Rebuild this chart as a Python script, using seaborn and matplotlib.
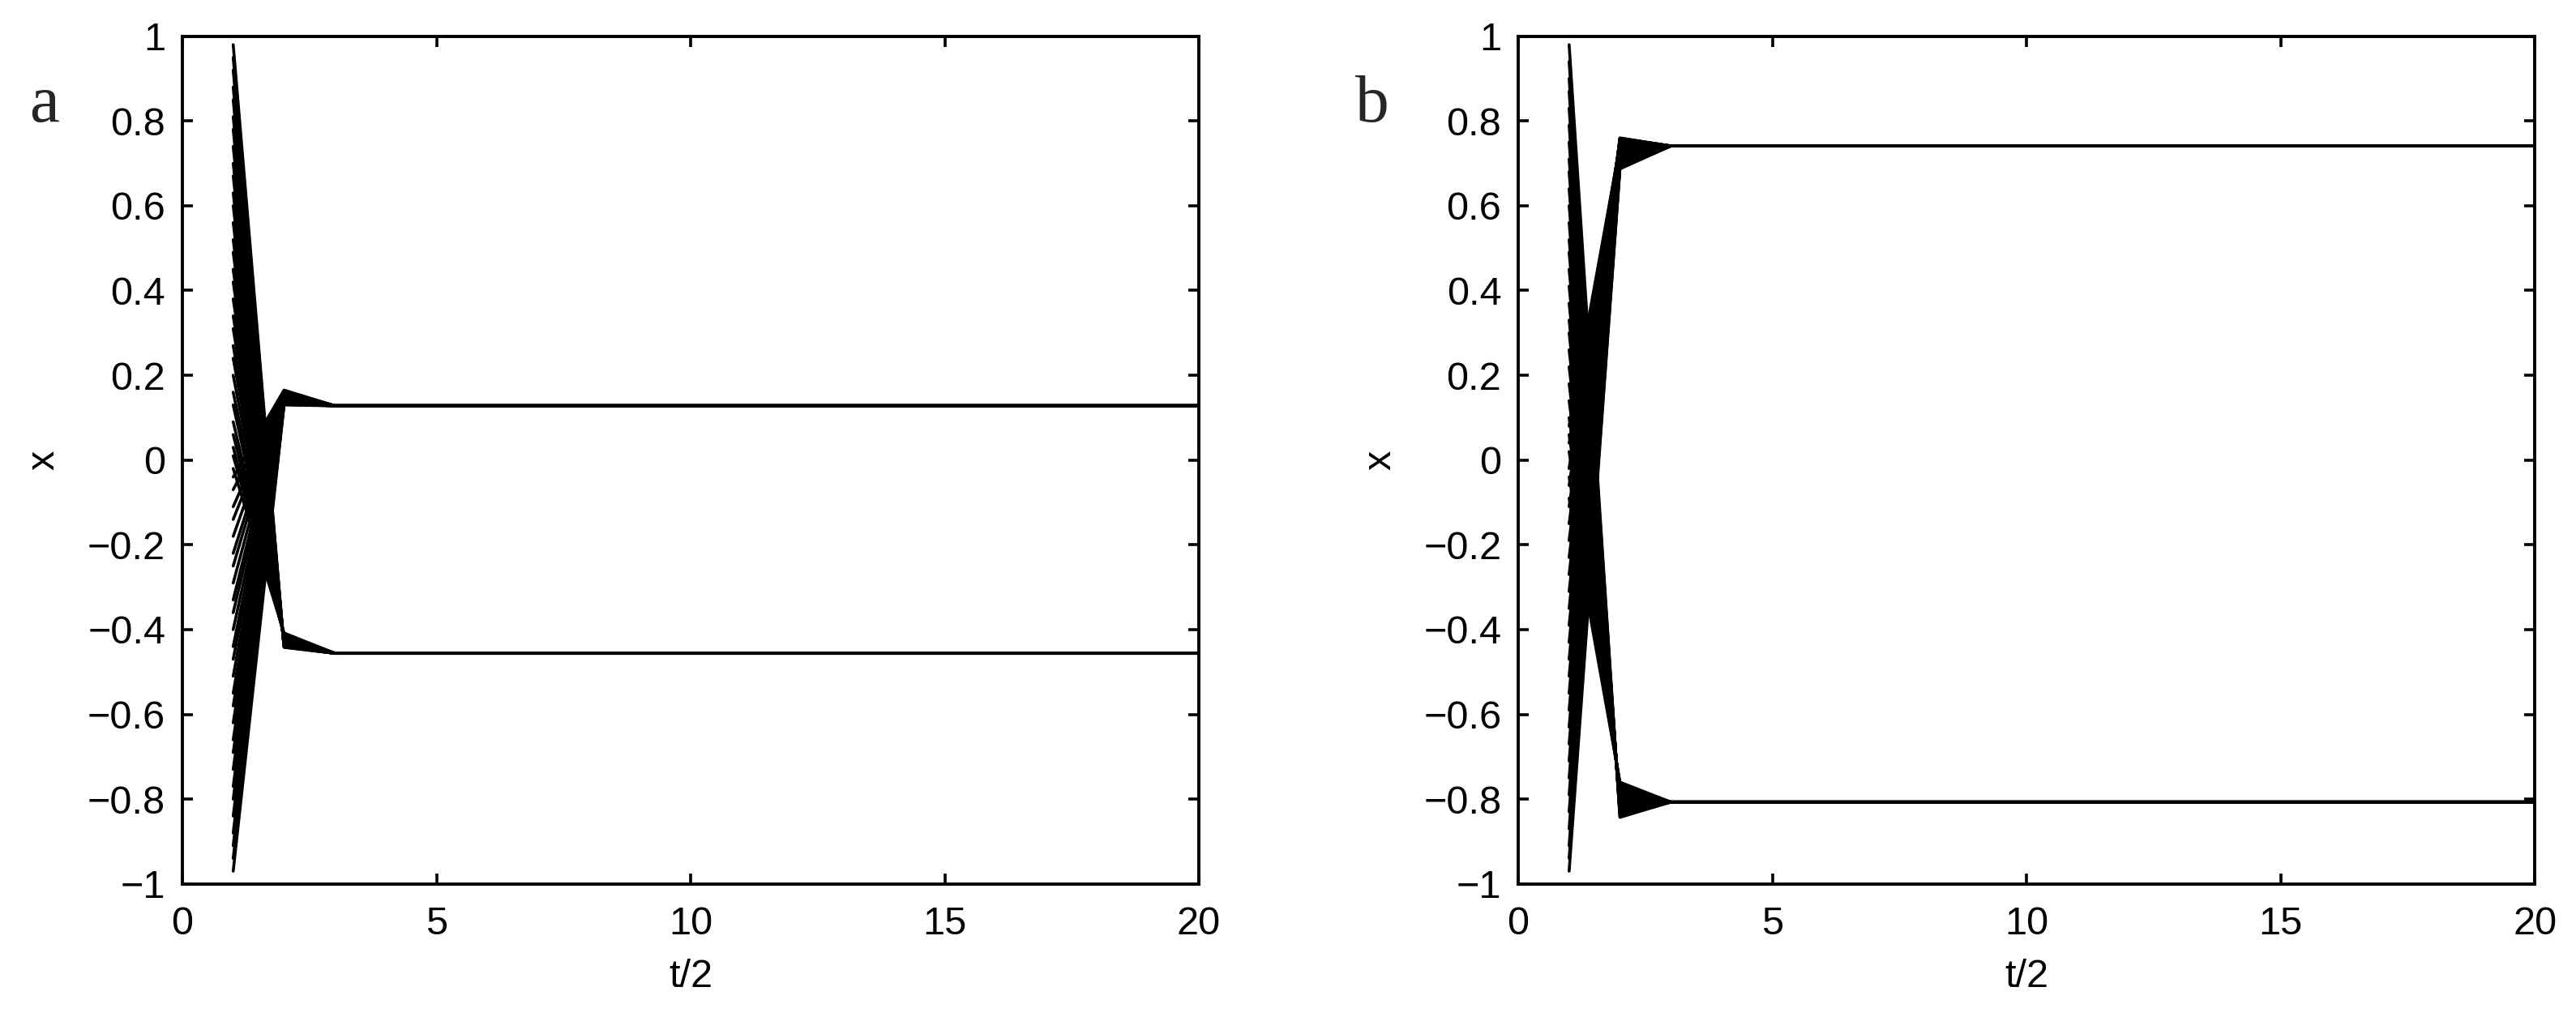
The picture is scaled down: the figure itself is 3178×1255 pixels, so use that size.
#!/usr/bin/env python3

import pandas as pd
import seaborn as sns
import matplotlib.pyplot as plt

# time axis: step 1 is the random start, step 2 the first update, step 3 on the settled state
T_END = 20

# panel a: nodes that fall to the lower cluster
A_START_DOWN = [0.98, 0.95, 0.92, 0.88, 0.85, 0.81, 0.78, 0.74, 0.70, 0.67,
                0.63, 0.60, 0.56, 0.52, 0.49, 0.45, 0.42, 0.38, 0.34, 0.31,
                0.27, 0.24, 0.20, 0.16, 0.13, 0.09, 0.06, 0.03, 0.01, -0.02]
A_STEP2_DOWN = [-0.442, -0.441, -0.440, -0.439, -0.438, -0.437, -0.436, -0.435, -0.434, -0.433,
                -0.432, -0.431, -0.430, -0.429, -0.428, -0.427, -0.426, -0.424, -0.423, -0.422,
                -0.421, -0.420, -0.418, -0.417, -0.416, -0.414, -0.413, -0.411, -0.410, -0.408]
# panel a: nodes that rise to the upper cluster
A_START_UP = [-0.04, -0.07, -0.11, -0.14, -0.18, -0.22, -0.25, -0.29, -0.33, -0.36,
              -0.40, -0.44, -0.47, -0.51, -0.55, -0.58, -0.62, -0.66, -0.69, -0.73,
              -0.77, -0.80, -0.84, -0.88, -0.91, -0.94, -0.97]
A_STEP2_UP = [0.165, 0.163, 0.162, 0.160, 0.159, 0.158, 0.156, 0.155, 0.154, 0.152,
              0.151, 0.150, 0.148, 0.147, 0.146, 0.144, 0.143, 0.142, 0.140, 0.139,
              0.138, 0.136, 0.135, 0.134, 0.132, 0.131, 0.130]
A_FINAL_UP = 0.128
A_FINAL_DOWN = -0.456

# panel b
B_START_DOWN = [0.98, 0.94, 0.90, 0.87, 0.83, 0.79, 0.75, 0.71, 0.68, 0.64,
                0.60, 0.56, 0.52, 0.49, 0.45, 0.41, 0.37, 0.33, 0.30, 0.26,
                0.22, 0.18, 0.14, 0.10, 0.06, 0.02, -0.04, -0.09]
B_STEP2_DOWN = [-0.843, -0.840, -0.837, -0.834, -0.831, -0.828, -0.825, -0.822, -0.819, -0.816,
                -0.813, -0.810, -0.807, -0.804, -0.801, -0.798, -0.795, -0.792, -0.789, -0.786,
                -0.783, -0.780, -0.777, -0.774, -0.770, -0.766, -0.763, -0.760]
B_START_UP = [0.08, 0.04, -0.02, -0.06, -0.11, -0.15, -0.19, -0.23, -0.27, -0.31,
              -0.35, -0.39, -0.43, -0.47, -0.51, -0.55, -0.59, -0.63, -0.67, -0.71,
              -0.75, -0.79, -0.83, -0.87, -0.91, -0.94, -0.97]
B_STEP2_UP = [0.742, 0.746, 0.750, 0.753, 0.756, 0.758, 0.759, 0.760, 0.759, 0.757,
              0.754, 0.751, 0.747, 0.743, 0.739, 0.735, 0.730, 0.725, 0.720, 0.715,
              0.710, 0.705, 0.700, 0.696, 0.692, 0.689, 0.687]
B_FINAL_UP = 0.741
B_FINAL_DOWN = -0.807

PANELS = {
    "a": (A_START_DOWN, A_STEP2_DOWN, A_FINAL_DOWN, A_START_UP, A_STEP2_UP, A_FINAL_UP),
    "b": (B_START_DOWN, B_STEP2_DOWN, B_FINAL_DOWN, B_START_UP, B_STEP2_UP, B_FINAL_UP),
}

Y_TICKS = [-1, -0.8, -0.6, -0.4, -0.2, 0, 0.2, 0.4, 0.6, 0.8, 1]
Y_TICK_LABELS = ["\u22121", "\u22120.8", "\u22120.6", "\u22120.4", "\u22120.2", "0",
                 "0.2", "0.4", "0.6", "0.8", "1"]
X_TICKS = [0, 5, 10, 15, 20]
X_TICK_LABELS = ["0", "5", "10", "15", "20"]


def trajectories(panel):
    """Long table of every node's path for one panel"""
    start_down, step2_down, final_down, start_up, step2_up, final_up = PANELS[panel]
    rows = []
    node = 0
    for starts, step2s, final in [(start_down, step2_down, final_down),
                                  (start_up, step2_up, final_up)]:
        for x0, x1 in zip(starts, step2s):
            rows.append({"node": node, "t": 1, "x": x0})
            rows.append({"node": node, "t": 2, "x": x1})
            for t in range(3, T_END + 1):
                rows.append({"node": node, "t": t, "x": final})
            node += 1
    return pd.DataFrame(rows)


def main():
    sns.set_theme(style="ticks")
    plt.rcParams["font.family"] = ["Liberation Sans", "DejaVu Sans"]
    plt.rcParams["axes.unicode_minus"] = True

    fig = plt.figure(figsize=(15.89, 6.275), dpi=200)
    fig.patch.set_facecolor("white")

    lefts = {"a": 0.0708, "b": 0.5894}
    letter_x = {"a": 0.0173, "b": 0.5327}

    for panel in ["a", "b"]:
        ax = fig.add_axes([lefts[panel], 0.1309, 0.3946, 0.8335])
        data = trajectories(panel)
        sns.lineplot(data=data, x="t", y="x", units="node", estimator=None,
                     color="black", lw=1.3, sort=False, ax=ax, legend=False)

        ax.set_xlim(0, 20)
        ax.set_ylim(-1, 1)
        ax.set_xticks(X_TICKS)
        ax.set_xticklabels(X_TICK_LABELS)
        ax.set_yticks(Y_TICKS)
        ax.set_yticklabels(Y_TICK_LABELS)
        ax.tick_params(direction="in", length=4.7, width=1.3, top=True, right=True,
                       labelsize=17.5, colors="black")
        ax.tick_params(axis="x", pad=10)
        ax.tick_params(axis="y", pad=7.5)
        for spine in ax.spines.values():
            spine.set_visible(True)
            spine.set_linewidth(1.4)
            spine.set_color("black")

        ax.set_xlabel("t/2", fontsize=17.5, color="black")
        ax.set_ylabel("x", fontsize=17.5, color="black")
        ax.xaxis.set_label_coords(0.5, -0.0885)
        ax.xaxis.label.set_va("top")
        ax.yaxis.set_label_coords(-0.136, 0.5)
        ax.yaxis.label.set_va("center")

        fig.text(letter_x[panel], 0.8805, panel, ha="center", va="baseline",
                 fontsize=30, family=["Liberation Serif", "DejaVu Serif"])

    fig.savefig("out.png", dpi=200, facecolor="white")


if __name__ == "__main__":
    main()
